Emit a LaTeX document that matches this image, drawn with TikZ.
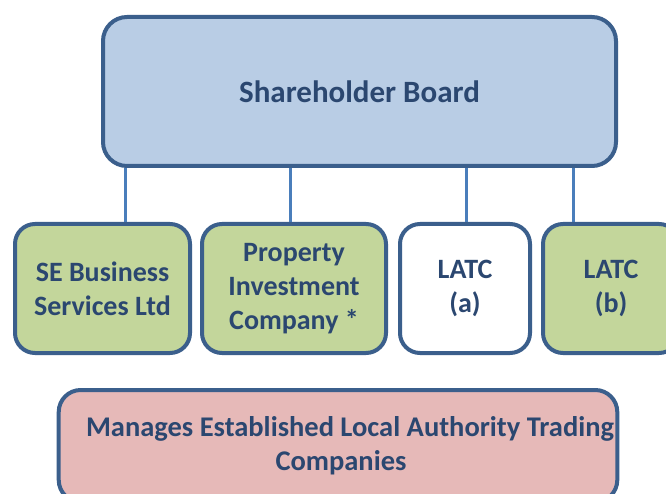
\documentclass[tikz,border=0pt]{standalone}
\usepackage{fontspec}
\setmainfont{Carlito}
\usetikzlibrary{positioning}
\definecolor{edgeblue}{HTML}{3B5F8C}
\definecolor{linkblue}{HTML}{4A7EBB}
\definecolor{textblue}{HTML}{2B4770}
\definecolor{boardfill}{HTML}{B9CDE5}
\definecolor{cofill}{HTML}{C3D69B}
\definecolor{mgmtfill}{HTML}{E6B9B8}
\tikzstyle{orgbox} = [rectangle, rounded corners=20pt, line width=4pt, draw=edgeblue, text=textblue, align=center, font=\fontsize{28}{34}\selectfont\bfseries]
\tikzstyle{board} = [orgbox, fill=boardfill, minimum width=513pt, minimum height=149pt, rounded corners=24pt, font=\fontsize{31}{36}\selectfont\bfseries]
\tikzstyle{company} = [orgbox, fill=cofill, minimum height=129pt]
\tikzstyle{link} = [line width=3.5pt, draw=linkblue]

\begin{document}
\begin{tikzpicture}[x=1pt, y=-1pt]
\useasboundingbox (0,0) rectangle (666,494);
\clip (0,0) rectangle (666,494);
\fill[white] (0,0) rectangle (666,494);

\node (board) [board] at (359.5,91.5) {Shareholder Board};
\node (sebs) [company, minimum width=175pt] at (102.5,288.5) {SE Business\\Services Ltd};
\node (pic) [company, minimum width=184pt] at (294,288.5) {Property\\Investment\\Company *};
\node (latca) [company, fill=white, minimum width=130pt] at (465,288.5) {LATC\\(a)};
\node (latcb) [company, minimum width=136pt] at (611,288.5) {LATC\\(b)};
\node (manage) [orgbox, fill=mgmtfill, minimum width=558pt, minimum height=112pt, rounded corners=22pt, font=\fontsize{28.5}{34}\selectfont\bfseries] at (338,446) {\hspace*{24pt}Manages Established Local Authority Trading\\\hspace*{6pt}Companies};

% board to each company
\draw [link] ([xshift=23pt]sebs.north) -- ([xshift=23pt]sebs.north |- board.south);
\draw [link, line width=3pt] ([xshift=-4pt]pic.north) -- ([xshift=-4pt]pic.north |- board.south);
\draw [link, line width=3pt] ([xshift=1pt]latca.north) -- ([xshift=1pt]latca.north |- board.south);
\draw [link, line width=3pt] ([xshift=-38pt]latcb.north) -- ([xshift=-38pt]latcb.north |- board.south);
\end{tikzpicture}
\end{document}
